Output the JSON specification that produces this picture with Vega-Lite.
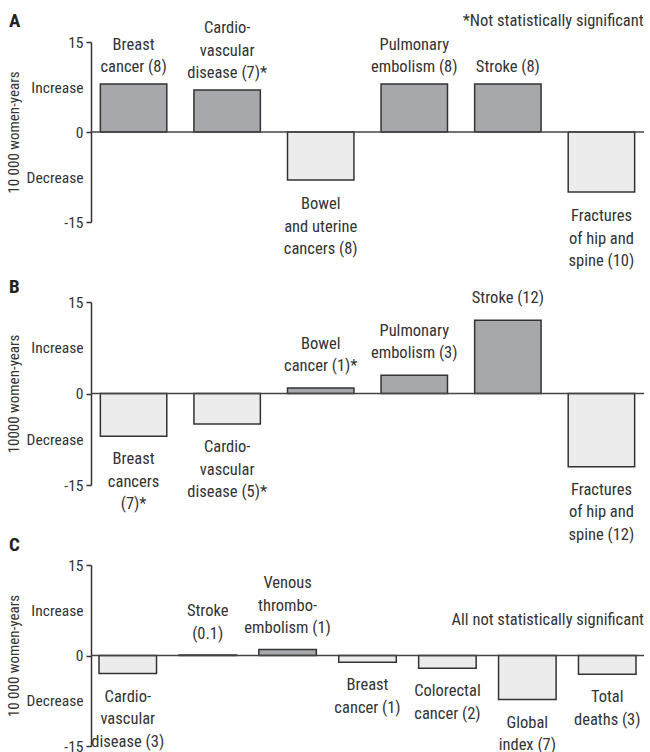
{
  "$schema": "https://vega.github.io/schema/vega-lite/v6.json",
  "background": "white",
  "padding": {"left": 6, "top": 12, "right": 5, "bottom": 5},
  "config": {
    "font": "'Roboto Condensed', 'DejaVu Sans Condensed', Roboto, sans-serif",
    "view": {"stroke": null},
    "text": {"font": "'Roboto Condensed', 'DejaVu Sans Condensed', Roboto, sans-serif", "fontSize": 16.5, "color": "#333333"},
    "title": {"font": "'Roboto Condensed', 'DejaVu Sans Condensed', Roboto, sans-serif", "fontSize": 19, "fontWeight": "bold", "color": "#222222", "anchor": "start", "frame": "bounds", "baseline": "alphabetic"},
    "axis": {
      "domainColor": "#333333", "domainWidth": 1.5, "tickColor": "#333333", "tickWidth": 1.5, "tickSize": 5,
      "labelFont": "'Roboto Condensed', 'DejaVu Sans Condensed', Roboto, sans-serif", "labelFontSize": 15.5, "labelColor": "#333333", "labelPadding": 3, "labelFlush": false,
      "titleFont": "'Roboto Condensed', 'DejaVu Sans Condensed', Roboto, sans-serif", "titleFontSize": 15, "titleFontWeight": "normal", "titleColor": "#333333", "titlePadding": 5,
      "grid": false
    }
  },
  "datasets": {
    "bars": [
      {"panel": "A", "key": "A1", "label": "Breast\ncancer (8)", "value": 8},
      {"panel": "A", "key": "A2", "label": "Cardio-\nvascular\ndisease (7)*", "value": 7},
      {"panel": "A", "key": "A3", "label": "Bowel\nand uterine\ncancers (8)", "value": -8},
      {"panel": "A", "key": "A4", "label": "Pulmonary\nembolism (8)", "value": 8},
      {"panel": "A", "key": "A5", "label": "Stroke (8)", "value": 8},
      {"panel": "A", "key": "A6", "label": "Fractures\nof hip and\nspine (10)", "value": -10},
      {"panel": "B", "key": "B1", "label": "Breast\ncancers\n(7)*", "value": -7},
      {"panel": "B", "key": "B2", "label": "Cardio-\nvascular\ndisease (5)*", "value": -5},
      {"panel": "B", "key": "B3", "label": "Bowel\ncancer (1)*", "value": 0.9},
      {"panel": "B", "key": "B4", "label": "Pulmonary\nembolism (3)", "value": 3},
      {"panel": "B", "key": "B5", "label": "Stroke (12)", "value": 12},
      {"panel": "B", "key": "B6", "label": "Fractures\nof hip and\nspine (12)", "value": -12},
      {"panel": "C", "key": "C1", "label": "Cardio-\nvascular\ndisease (3)", "value": -3},
      {"panel": "C", "key": "C2", "label": "Stroke\n(0.1)", "value": 0.1},
      {"panel": "C", "key": "C3", "label": "Venous\nthrombo-\nembolism (1)", "value": 1},
      {"panel": "C", "key": "C4", "label": "Breast\ncancer (1)", "value": -1.1},
      {"panel": "C", "key": "C5", "label": "Colorectal\ncancer (2)", "value": -2.1},
      {"panel": "C", "key": "C6", "label": "Global\nindex (7)", "value": -7.3},
      {"panel": "C", "key": "C7", "label": "Total\ndeaths (3)", "value": -3.1}
    ]
  },
  "spacing": 80,
  "bounds": "flush",
  "vconcat": [
    {
      "width": 553, "height": 180,
      "title": {"text": "A", "offset": -18, "dx": 3},
      "layer": [
        {
          "data": {"name": "bars"},
          "transform": [{"filter": "datum.panel == 'A'"}],
          "mark": {"type": "bar", "stroke": "#333333", "strokeWidth": 1.5},
          "encoding": {
            "x": {"field": "key", "type": "nominal", "sort": null, "axis": null, "scale": {"paddingInner": 0.29, "paddingOuter": 0.1}},
            "y": {"field": "value", "type": "quantitative", "scale": {"domain": [-15, 15], "nice": false},
              "axis": {"title": "10 000 women-years", "values": [-15, -7.5, 0, 7.5, 15],
                "labelExpr": "datum.value == 15 ? '15' : datum.value == -15 ? '-15' : datum.value == 0 ? '0' : datum.value > 0 ? 'Increase' : 'Decrease'",
                "tickOpacity": {"condition": {"test": "abs(datum.value) == 7.5", "value": 0}, "value": 1}}},
            "fill": {"condition": {"test": "datum.value > 0", "value": "#a7a8ab"}, "value": "#ececec"}
          }
        },
        {
          "data": {"values": [{}]},
          "mark": {"type": "rule", "color": "#444444", "strokeWidth": 1.5},
          "encoding": {"y": {"datum": 0}}
        },
        {
          "data": {"name": "bars"},
          "transform": [{"filter": "datum.panel == 'A' && datum.value > 0"}, {"calculate": "reverse(split(datum.label, '\\n'))", "as": "lines"}],
          "mark": {"type": "text", "align": "center", "baseline": "bottom", "dy": -9, "lineHeight": -22.5},
          "encoding": {
            "x": {"field": "key", "type": "nominal", "sort": null},
            "y": {"field": "value", "type": "quantitative"},
            "text": {"field": "lines"}
          }
        },
        {
          "data": {"name": "bars"},
          "transform": [{"filter": "datum.panel == 'A' && datum.value < 0"}],
          "mark": {"type": "text", "align": "center", "baseline": "top", "dy": 16, "lineBreak": "\n", "lineHeight": 22.5},
          "encoding": {
            "x": {"field": "key", "type": "nominal", "sort": null},
            "y": {"field": "value", "type": "quantitative"},
            "text": {"field": "label"}
          }
        },
        {
          "data": {"values": [{"note": "*Not statistically significant"}]},
          "mark": {"type": "text", "align": "right", "baseline": "alphabetic", "dx": 9},
          "encoding": {
            "x": {"datum": "A6", "type": "nominal", "bandPosition": 1},
            "y": {"datum": 17.6, "type": "quantitative"},
            "text": {"field": "note"}
          }
        }
      ]
    },
    {
      "width": 553, "height": 183,
      "title": {"text": "B", "offset": -7, "dx": 3},
      "layer": [
        {
          "data": {"name": "bars"},
          "transform": [{"filter": "datum.panel == 'B'"}],
          "mark": {"type": "bar", "stroke": "#333333", "strokeWidth": 1.5},
          "encoding": {
            "x": {"field": "key", "type": "nominal", "sort": null, "axis": null, "scale": {"paddingInner": 0.29, "paddingOuter": 0.1}},
            "y": {"field": "value", "type": "quantitative", "scale": {"domain": [-15, 15], "nice": false},
              "axis": {"title": "10000 women-years", "values": [-15, -7.5, 0, 7.5, 15],
                "labelExpr": "datum.value == 15 ? '15' : datum.value == -15 ? '-15' : datum.value == 0 ? '0' : datum.value > 0 ? 'Increase' : 'Decrease'",
                "tickOpacity": {"condition": {"test": "abs(datum.value) == 7.5", "value": 0}, "value": 1}}},
            "fill": {"condition": {"test": "datum.value > 0", "value": "#a7a8ab"}, "value": "#ececec"}
          }
        },
        {
          "data": {"values": [{}]},
          "mark": {"type": "rule", "color": "#444444", "strokeWidth": 1.5},
          "encoding": {"y": {"datum": 0}}
        },
        {
          "data": {"name": "bars"},
          "transform": [{"filter": "datum.panel == 'B' && datum.value > 0"}, {"calculate": "reverse(split(datum.label, '\\n'))", "as": "lines"}],
          "mark": {"type": "text", "align": "center", "baseline": "bottom", "dy": -14, "lineHeight": -22.5},
          "encoding": {
            "x": {"field": "key", "type": "nominal", "sort": null},
            "y": {"field": "value", "type": "quantitative"},
            "text": {"field": "lines"}
          }
        },
        {
          "data": {"name": "bars"},
          "transform": [{"filter": "datum.panel == 'B' && datum.value < 0"}],
          "mark": {"type": "text", "align": "center", "baseline": "top", "dy": 15, "lineBreak": "\n", "lineHeight": 22.5},
          "encoding": {
            "x": {"field": "key", "type": "nominal", "sort": null},
            "y": {"field": "value", "type": "quantitative"},
            "text": {"field": "label"}
          }
        }
      ]
    },
    {
      "width": 553, "height": 181,
      "title": {"text": "C", "offset": 3, "dx": 3},
      "layer": [
        {
          "data": {"name": "bars"},
          "transform": [{"filter": "datum.panel == 'C'"}],
          "mark": {"type": "bar", "stroke": "#333333", "strokeWidth": 1.5},
          "encoding": {
            "x": {"field": "key", "type": "nominal", "sort": null, "axis": null, "scale": {"paddingInner": 0.28, "paddingOuter": 0.1}},
            "y": {"field": "value", "type": "quantitative", "scale": {"domain": [-15, 15], "nice": false},
              "axis": {"title": "10 000 women-years", "values": [-15, -7.5, 0, 7.5, 15],
                "labelExpr": "datum.value == 15 ? '15' : datum.value == -15 ? '-15' : datum.value == 0 ? '0' : datum.value > 0 ? 'Increase' : 'Decrease'",
                "tickOpacity": {"condition": {"test": "abs(datum.value) == 7.5", "value": 0}, "value": 1}}},
            "fill": {"condition": {"test": "datum.value > 0", "value": "#a7a8ab"}, "value": "#ececec"}
          }
        },
        {
          "data": {"values": [{}]},
          "mark": {"type": "rule", "color": "#444444", "strokeWidth": 1.5},
          "encoding": {"y": {"datum": 0}}
        },
        {
          "data": {"name": "bars"},
          "transform": [{"filter": "datum.panel == 'C' && datum.value > 0"}, {"calculate": "reverse(split(datum.label, '\\n'))", "as": "lines"}],
          "mark": {"type": "text", "align": "center", "baseline": "bottom", "dy": -13, "lineHeight": -22.5},
          "encoding": {
            "x": {"field": "key", "type": "nominal", "sort": null},
            "y": {"field": "value", "type": "quantitative"},
            "text": {"field": "lines"}
          }
        },
        {
          "data": {"name": "bars"},
          "transform": [{"filter": "datum.panel == 'C' && datum.value < 0"}],
          "mark": {"type": "text", "align": "center", "baseline": "top", "dy": 15, "lineBreak": "\n", "lineHeight": 22.5},
          "encoding": {
            "x": {"field": "key", "type": "nominal", "sort": null},
            "y": {"field": "value", "type": "quantitative"},
            "text": {"field": "label"}
          }
        },
        {
          "data": {"values": [{"note": "All not statistically significant"}]},
          "mark": {"type": "text", "align": "right", "baseline": "alphabetic", "dx": 8},
          "encoding": {
            "x": {"datum": "C7", "type": "nominal", "bandPosition": 1},
            "y": {"datum": 5, "type": "quantitative"},
            "text": {"field": "note"}
          }
        }
      ]
    }
  ]
}
